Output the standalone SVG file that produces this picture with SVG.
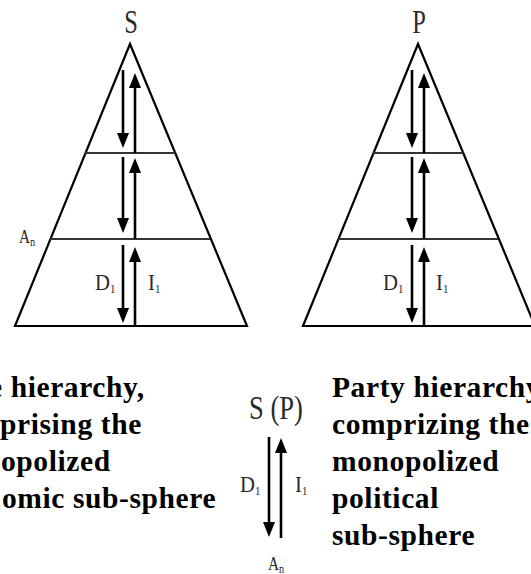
<svg xmlns="http://www.w3.org/2000/svg" width="531" height="574" viewBox="0 0 531 574">
<defs>
<style>
.frame{fill:none;stroke:#000;stroke-width:2.2;stroke-linejoin:miter}
.tier{stroke:#333;stroke-width:2}
.arr{stroke:#000;stroke-width:2.6;fill:none}
.lbl{font-family:"Liberation Serif","Times New Roman",serif;fill:#2a2a2a}
.big{font-size:34px}
.mid{font-size:23px}
.sub{font-size:12px}
.body{font-family:"Liberation Serif","Times New Roman",serif;font-weight:bold;font-size:29.5px;letter-spacing:0.6px;fill:#000}
</style>
<marker id="ah" viewBox="0 0 15 12" refX="7" refY="6" markerWidth="15" markerHeight="12" markerUnits="userSpaceOnUse" orient="auto">
<path d="M0,0 L15,6 L0,12 z" fill="#000"/>
</marker>
</defs>
<rect width="531" height="574" fill="#fff"/>

<g id="pyramid-s">
<polygon class="frame" points="130,44 15,326 247,326"/>
<line class="tier" x1="85" y1="153" x2="175" y2="153"/>
<line class="tier" x1="50" y1="239" x2="210" y2="239"/>
<text class="lbl big" transform="translate(131,33) scale(0.72,1)" text-anchor="middle">S</text>
<text class="lbl" font-size="18" transform="translate(19,243) scale(0.85,1)">A<tspan class="sub" dy="3">n</tspan></text>
<text class="lbl mid" transform="translate(95,290) scale(0.9,1)">D<tspan class="sub" dy="3">1</tspan></text>
<text class="lbl mid" transform="translate(148,290) scale(0.9,1)">I<tspan class="sub" dy="3">1</tspan></text>
</g>

<g id="pyramid-p">
<polygon class="frame" points="418,44 303,326 535,326"/>
<line class="tier" x1="373" y1="153" x2="463" y2="153"/>
<line class="tier" x1="338" y1="239" x2="498" y2="239"/>
<text class="lbl big" transform="translate(419,33) scale(0.72,1)" text-anchor="middle">P</text>
<text class="lbl mid" transform="translate(383,290) scale(0.9,1)">D<tspan class="sub" dy="3">1</tspan></text>
<text class="lbl mid" transform="translate(436,290) scale(0.9,1)">I<tspan class="sub" dy="3">1</tspan></text>
</g>

<g id="legend">
<text class="lbl big" transform="translate(276,419) scale(0.78,1)" text-anchor="middle">S (P)</text>
<text class="lbl mid" transform="translate(240,492) scale(0.9,1)">D<tspan class="sub" dy="3">1</tspan></text>
<text class="lbl mid" transform="translate(295,492) scale(0.9,1)">I<tspan class="sub" dy="3">1</tspan></text>
<text class="lbl" font-size="18" transform="translate(268,570) scale(0.85,1)">A<tspan class="sub" dy="3">n</tspan></text>
</g>

<g id="connectors">
<line class="arr" x1="123" y1="70" x2="123" y2="140" marker-end="url(#ah)"/>
<line class="arr" x1="135" y1="153" x2="135" y2="81" marker-end="url(#ah)"/>
<line class="arr" x1="123" y1="157" x2="123" y2="225" marker-end="url(#ah)"/>
<line class="arr" x1="135" y1="239" x2="135" y2="166" marker-end="url(#ah)"/>
<line class="arr" x1="123" y1="245" x2="123" y2="315" marker-end="url(#ah)"/>
<line class="arr" x1="135" y1="326" x2="135" y2="255" marker-end="url(#ah)"/>

<line class="arr" x1="412" y1="70" x2="412" y2="140" marker-end="url(#ah)"/>
<line class="arr" x1="424" y1="153" x2="424" y2="81" marker-end="url(#ah)"/>
<line class="arr" x1="412" y1="157" x2="412" y2="225" marker-end="url(#ah)"/>
<line class="arr" x1="424" y1="239" x2="424" y2="166" marker-end="url(#ah)"/>
<line class="arr" x1="412" y1="245" x2="412" y2="315" marker-end="url(#ah)"/>
<line class="arr" x1="424" y1="326" x2="424" y2="255" marker-end="url(#ah)"/>

<line class="arr" x1="269" y1="437" x2="269" y2="529" marker-end="url(#ah)"/>
<line class="arr" x1="281" y1="538" x2="281" y2="446" marker-end="url(#ah)"/>
</g>

<g id="text-left">
<text class="body" x="-11" y="397">e hierarchy,</text>
<text class="body" x="0" y="434">prising the</text>
<text class="body" x="1" y="471">opolized</text>
<text class="body" x="2" y="508">omic sub-sphere</text>
</g>

<g id="text-right">
<text class="body" x="332" y="397">Party hierarchy,</text>
<text class="body" x="332" y="434">comprizing the</text>
<text class="body" x="332" y="471">monopolized</text>
<text class="body" x="332" y="508">political</text>
<text class="body" x="332" y="545">sub-sphere</text>
</g>
</svg>
